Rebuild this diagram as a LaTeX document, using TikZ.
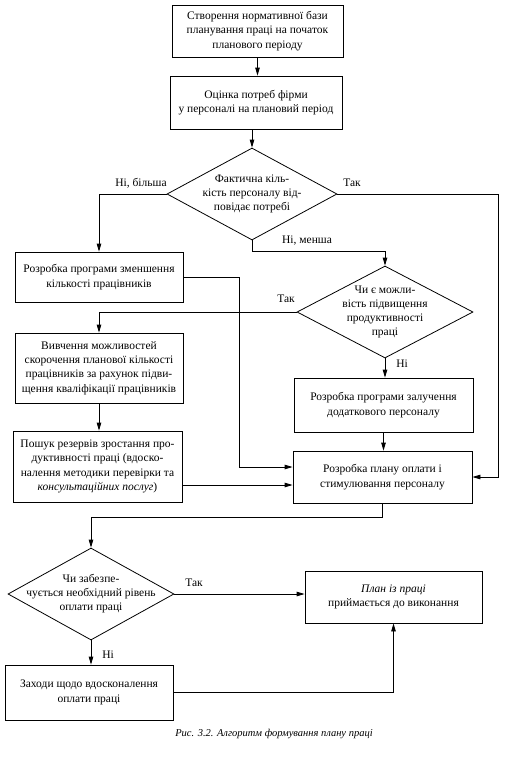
\documentclass[tikz,border=0pt]{standalone}
\usepackage{fontspec}
\setmainfont{Liberation Serif}
\usetikzlibrary{shapes.geometric,arrows.meta,calc}
\begin{document}
\begin{tikzpicture}[x=1pt,y=-1pt,
  blok/.style={draw,line width=0.8pt,align=center,inner sep=2pt,font=\fontsize{11.5}{14.3}\selectfont},
  romb/.style={draw,diamond,line width=0.8pt,inner sep=0pt},
  rtxt/.style={align=center,inner sep=0pt,font=\fontsize{11.5}{14}\selectfont},
  mitka/.style={inner sep=1pt,font=\fontsize{11.5}{14}\selectfont},
  strilka/.style={line width=0.8pt,-{Triangle[length=8pt,width=4.5pt]}}]
  \useasboundingbox (0,0) rectangle (531,772);
  \node[blok,minimum width=171pt,minimum height=52pt] (stvor) at (257.5,31)
    {Створення нормативної бази\\планування праці на початок\\планового періоду};
  \node[blok,minimum width=172pt,minimum height=53pt] (otsin) at (256,102.5)
    {Оцінка потреб фірми\\у персоналі на плановий період};
  \node[romb,minimum width=170pt,minimum height=92pt] (fakt) at (252,194) {};
  \node[rtxt] (fakttxt) at (fakt) {Фактична кіль-\\кість персоналу від-\\повідає потребі};
  \node[blok,minimum width=168pt,minimum height=50pt] (zmen) at (99,277)
    {Розробка програми зменшення\\кількості працівників};
  \node[romb,minimum width=176pt,minimum height=92pt] (mozhl) at (385,312) {};
  \node[rtxt] (mozhltxt) at (mozhl) {Чи є можли-\\вість підвищення\\продуктивності\\праці};
  \node[blok,minimum width=168pt,minimum height=70pt] (vyvch) at (99,368)
    {Вивчення можливостей\\скорочення планової кількості\\працівників за рахунок підви-\\щення кваліфікації працівників};
  \node[blok,minimum width=179pt,minimum height=54pt] (zaluch) at (383.5,405)
    {Розробка програми залучення\\додаткового персоналу};
  \node[blok,minimum width=169pt,minimum height=71pt] (poshuk) at (97.5,466.5)
    {Пошук резервів зростання про-\\дуктивності праці (вдоско-\\налення методики перевірки та\\\textit{консультаційних послуг})};
  \node[blok,minimum width=179pt,minimum height=52pt] (oplata) at (382.5,477)
    {Розробка плану оплати і\\стимулювання персоналу};
  \node[romb,minimum width=166pt,minimum height=92pt] (zabez) at (91,594) {};
  \node[rtxt] (zabeztxt) at (zabez) {Чи забезпе-\\чується необхідний рівень\\оплати праці};
  \node[blok,minimum width=177pt,minimum height=52pt] (plan) at (393.5,597)
    {\textit{План із праці}\\приймається до виконання};
  \node[blok,minimum width=168pt,minimum height=55pt] (zakhody) at (89,692.5)
    {Заходи щодо вдосконалення\\оплати праці};
  \node[font=\fontsize{10.5}{12}\selectfont\itshape] (pidpys) at (274,734)
    {Рис. 3.2. Алгоритм формування плану праці};
  \node[mitka] (nbil) at (141,183) {Ні, більша}; \node[mitka] (tak1) at (352,183) {Так};
  \node[mitka] (nmen) at (307,241) {Ні, менша}; \node[mitka] (tak2) at (286,299) {Так};
  \node[mitka] (ni2) at (402,364) {Ні}; \node[mitka] (tak3) at (194,583) {Так};
  \node[mitka] (ni3) at (108,655) {Ні};
  \coordinate (pravo) at (498,477); \coordinate (vnyz) at (252,251);
  \coordinate (vkhid1) at ($(oplata.west)+(0,-10)$);
  \coordinate (vkhid2) at ($(oplata.west)+(0,8)$);
  \coordinate (zlam) at (239,467); \coordinate (povorot) at (382.5,517);
  \draw[strilka] (stvor.south) -- (stvor.south |- otsin.north);
  \draw[strilka] (fakt.north |- otsin.south) -- (fakt.north);
  \draw[strilka] (fakt.west) -| (zmen.north);
  \draw[strilka] (fakt.east) -| (pravo) -- (oplata.east);
  \draw[strilka] (fakt.south) -- (vnyz) -| (mozhl.north);
  \draw[strilka] (mozhl.west) -| (vyvch.north);
  \draw[strilka] (mozhl.south) -- (mozhl.south |- zaluch.north);
  \draw[strilka] (zaluch.south) -- (zaluch.south |- oplata.north);
  \draw[strilka] (zmen.east) -| (zlam) -- (vkhid1);
  \draw[strilka] (vyvch.south) -- (vyvch.south |- poshuk.north);
  \draw[strilka] (poshuk.east |- vkhid2) -- (vkhid2);
  \draw[strilka] (oplata.south) -- (povorot) -| (zabez.north);
  \draw[strilka] (zabez.east) -- (zabez.east -| plan.west);
  \draw[strilka] (zabez.south) -- (zabez.south |- zakhody.north);
  \draw[strilka] (zakhody.east) -| (plan.south);
\end{tikzpicture}
\end{document}
